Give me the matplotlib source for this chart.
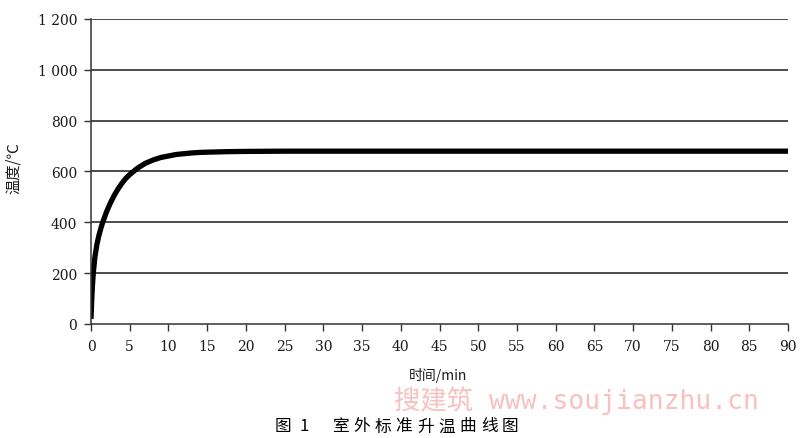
import matplotlib
matplotlib.use('Agg')
import matplotlib.pyplot as plt
from matplotlib.ticker import FuncFormatter

# values
time_min = [0, 0.1, 0.2, 0.3, 0.5, 0.75, 1, 1.25, 1.5, 2, 2.5, 3, 3.5, 4, 4.5,
            5, 6, 7, 8, 9, 10, 11, 12, 13, 14, 15, 17.5, 20, 25, 30, 40, 50,
            60, 70, 80, 90]
temp_c = [20, 100, 158, 202, 263, 311, 346, 374, 399, 441, 476, 506, 532, 554,
          573, 588, 613, 632, 645, 655, 661, 667, 670, 673, 675, 676, 678, 679,
          680, 680, 680, 680, 680, 680, 680, 680]

x_ticks = list(range(0, 91, 5))
y_ticks = [0, 200, 400, 600, 800, 1000, 1200]

cjk = ['Noto Sans CJK SC', 'DejaVu Sans']
num_font = 'DejaVu Serif'

fig = plt.figure(figsize=(8, 4.39), dpi=100)
ax = fig.add_axes([91 / 800, 1 - 325 / 439, 697 / 800, 305 / 439])

ax.plot(time_min, temp_c, color='black', lw=3.8, solid_capstyle='butt')

ax.set_xlim(0, 90)
ax.set_ylim(0, 1200)
ax.set_xticks(x_ticks)
ax.set_yticks(y_ticks)
ax.yaxis.set_major_formatter(FuncFormatter(lambda v, p: f'{int(v):,}'.replace(',', ' ')))

for y in y_ticks[1:]:
    ax.axhline(y, color='#1a1a1a', lw=1.1, zorder=0)

for s in ['top', 'right']:
    ax.spines[s].set_visible(False)
for s in ['left', 'bottom']:
    ax.spines[s].set_color('#333333')
    ax.spines[s].set_linewidth(1.1)

ax.tick_params(axis='both', direction='out', length=5, width=1.0, color='#333333',
               labelsize=10, labelcolor='#1a1a1a')
ax.tick_params(axis='x', pad=6)
ax.tick_params(axis='y', pad=5)
for lab in ax.get_xticklabels() + ax.get_yticklabels():
    lab.set_fontfamily(num_font)

fig.text(13 / 800, 1 - 168 / 439, '温度/℃', rotation=90, ha='center', va='center',
         fontsize=11, family=cjk, fontweight='medium', color='#1a1a1a')
fig.text(438 / 800, 1 - 376 / 439, '时间/min', ha='center', va='center',
         fontsize=10, family=cjk, fontweight='medium', color='#1a1a1a')

# caption, spaced out character by character like the original
caption = '室外标准升温曲线图'
cap_y = 1 - 427 / 439
fig.text(283 / 800, cap_y, '图', ha='center', va='center',
         fontsize=12, family=cjk, fontweight='medium', color='black')
fig.text(304 / 800, cap_y, '1', ha='center', va='center',
         fontsize=12, family=cjk, fontweight='medium', color='black')
for i, ch in enumerate(caption):
    fig.text((340 + 21.3 * i) / 800, cap_y, ch, ha='center', va='center',
             fontsize=12, family=cjk, fontweight='medium', color='black')

fig.text(576 / 800, 1 - 401 / 439, '搜建筑 www.soujianzhu.cn', ha='center', va='center',
         fontsize=19, family=['DejaVu Sans Mono', 'Noto Sans CJK SC'],
         color='#f9b5b5', alpha=0.85)

fig.savefig('out.png', dpi=100)
